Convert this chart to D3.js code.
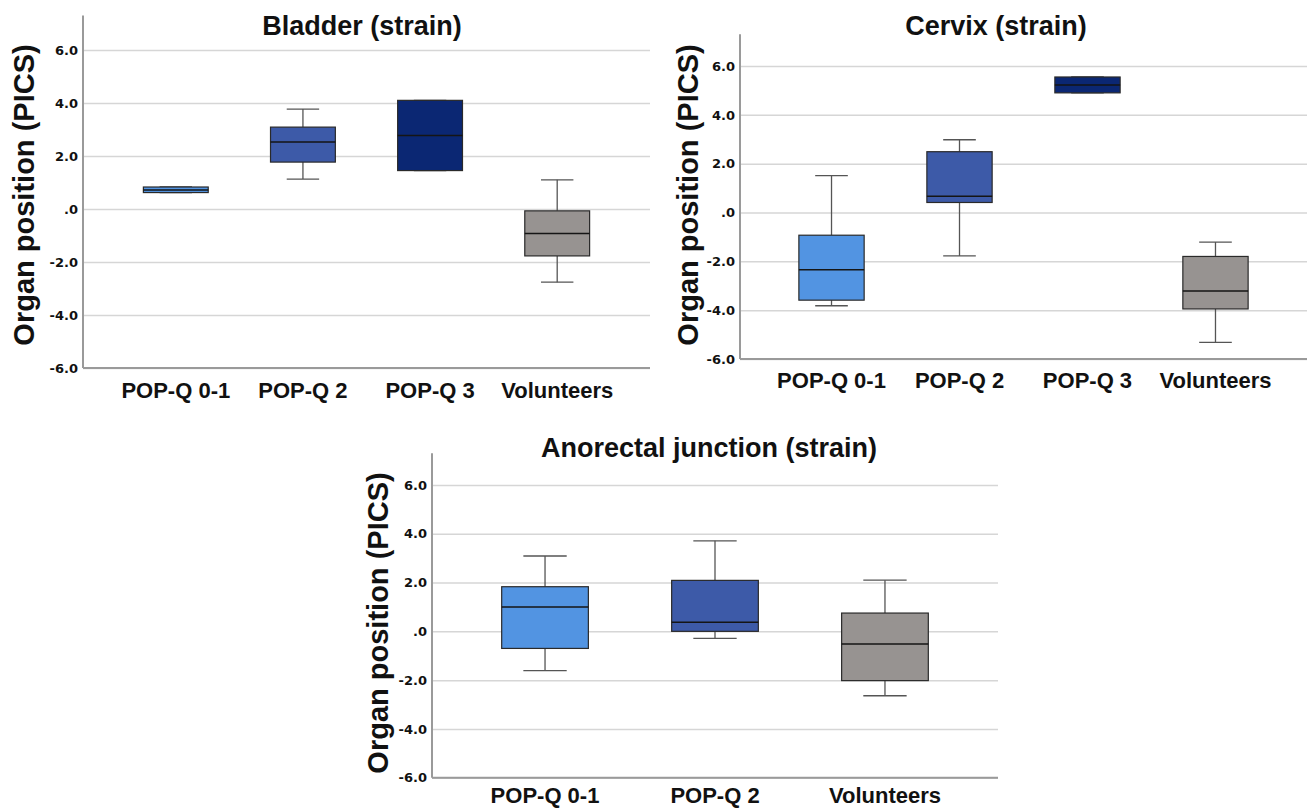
<!DOCTYPE html>
<html>
<head>
<meta charset="utf-8">
<script src="https://cdn.jsdelivr.net/npm/d3@7"></script>
<style>
  body { margin: 0; background: #fff; }
  svg { display: block; }
</style>
</head>
<body>
<script>
// y axis shared by all three panels
var yTicks = [-6, -4, -2, 0, 2, 4, 6];
var yDomain = [-6, 7.3];

// box stats per group: [min, q1, median, q3, max]
var bladderGroups = ['POP-Q 0-1', 'POP-Q 2', 'POP-Q 3', 'Volunteers'];
var bladderStats = [
    [0.62, 0.62, 0.72, 0.83, 0.83],
    [1.13, 1.77, 2.53, 3.09, 3.77],
    [1.45, 1.45, 2.77, 4.10, 4.10],
    [-2.76, -1.77, -0.92, -0.07, 1.10]
];

var cervixGroups = ['POP-Q 0-1', 'POP-Q 2', 'POP-Q 3', 'Volunteers'];
var cervixStats = [
    [-3.82, -3.59, -2.34, -0.93, 1.51],
    [-1.78, 0.41, 0.67, 2.49, 2.98],
    [4.90, 4.90, 5.22, 5.55, 5.55],
    [-5.32, -3.95, -3.22, -1.80, -1.21]
];

var anorectalGroups = ['POP-Q 0-1', 'POP-Q 2', 'Volunteers'];
var anorectalStats = [
    [-1.61, -0.70, 1.00, 1.83, 3.09],
    [-0.29, 0.00, 0.37, 2.09, 3.71],
    [-2.64, -2.02, -0.52, 0.75, 2.10]
];

var groupColors = {
    'POP-Q 0-1': '#5294e2',
    'POP-Q 2': '#3d5aa8',
    'POP-Q 3': '#0b2773',
    'Volunteers': '#979391'
};

var width = 1307, height = 809;
var fontFamily = '"Liberation Sans", Arial, Helvetica, sans-serif';

var svg = d3.select('body').append('svg').attr('width', width).attr('height', height);

// layout of each panel (pixel positions of the plot area)
var panels = [
    { title: 'Bladder (strain)', groups: bladderGroups, stats: bladderStats,
      left: 83, right: 650, y6: 50, bottom: 368, pad: 0.73, catY: 398,
      titleX: 362, titleY: 35, labelX: 34, labelY: 195 },
    { title: 'Cervix (strain)', groups: cervixGroups, stats: cervixStats,
      left: 740, right: 1307, y6: 66, bottom: 359, pad: 0.715, catY: 388,
      titleX: 996, titleY: 35, labelX: 698, labelY: 195 },
    { title: 'Anorectal junction (strain)', groups: anorectalGroups, stats: anorectalStats,
      left: 432, right: 998, y6: 485, bottom: 777.7, pad: 0.665, catY: 803,
      titleX: 709, titleY: 457, labelX: 388, labelY: 623 }
];

panels.forEach(drawPanel);

function drawPanel(p) {
    var ppu = (p.bottom - p.y6) / 12; // pixels per unit
    var y = d3.scaleLinear()
        .domain(yDomain)
        .range([p.bottom, p.bottom - (yDomain[1] - yDomain[0]) * ppu]);

    var x = d3.scalePoint()
        .domain(p.groups)
        .range([p.left, p.right])
        .padding(p.pad);

    var boxW = x.step() * 0.51;
    var g = svg.append('g');

    // gridlines
    g.append('g')
        .attr('transform', 'translate(' + p.left + ',0)')
        .call(d3.axisLeft(y).tickValues(yTicks).tickSize(-(p.right - p.left)).tickFormat(''))
        .call(function (s) {
            s.select('.domain').remove();
            s.selectAll('line').attr('stroke', '#d6d6d6').attr('stroke-width', 1.5);
        });

    // tick labels
    g.append('g')
        .attr('transform', 'translate(' + p.left + ',0)')
        .call(d3.axisLeft(y).tickValues(yTicks).tickSize(0).tickPadding(5)
            .tickFormat(function (d) { return d === 0 ? '.0' : d.toFixed(1); }))
        .call(function (s) {
            s.select('.domain').remove();
            s.selectAll('text')
                .attr('font-family', '"DejaVu Sans", sans-serif')
                .attr('font-weight', 'bold')
                .attr('font-size', 13)
                .attr('fill', '#111');
        });

    // axis lines
    g.append('line')
        .attr('x1', p.left).attr('x2', p.left)
        .attr('y1', y(yDomain[1])).attr('y2', p.bottom)
        .attr('stroke', '#9a9a9a').attr('stroke-width', 2);
    g.append('line')
        .attr('x1', p.left).attr('x2', p.right)
        .attr('y1', p.bottom).attr('y2', p.bottom)
        .attr('stroke', '#9a9a9a').attr('stroke-width', 2);

    // category labels
    g.selectAll('.cat')
        .data(p.groups)
        .enter().append('text')
        .attr('class', 'cat')
        .attr('x', function (d) { return x(d); })
        .attr('y', p.catY)
        .attr('text-anchor', 'middle')
        .attr('font-family', fontFamily)
        .attr('font-weight', 'bold')
        .attr('font-size', 22)
        .attr('fill', '#111')
        .text(function (d) { return d; });

    // boxes
    var box = g.selectAll('.box')
        .data(p.groups.map(function (name, i) { return { name: name, s: p.stats[i] }; }))
        .enter().append('g')
        .attr('class', 'box');

    // whiskers
    box.append('line')
        .attr('x1', function (d) { return x(d.name); })
        .attr('x2', function (d) { return x(d.name); })
        .attr('y1', function (d) { return y(d.s[4]); })
        .attr('y2', function (d) { return y(d.s[3]); })
        .attr('stroke', '#555').attr('stroke-width', 1.3);
    box.append('line')
        .attr('x1', function (d) { return x(d.name); })
        .attr('x2', function (d) { return x(d.name); })
        .attr('y1', function (d) { return y(d.s[1]); })
        .attr('y2', function (d) { return y(d.s[0]); })
        .attr('stroke', '#555').attr('stroke-width', 1.3);
    [0, 4].forEach(function (k) {
        box.append('line')
            .attr('x1', function (d) { return x(d.name) - boxW / 4; })
            .attr('x2', function (d) { return x(d.name) + boxW / 4; })
            .attr('y1', function (d) { return y(d.s[k]); })
            .attr('y2', function (d) { return y(d.s[k]); })
            .attr('stroke', '#555').attr('stroke-width', 1.3);
    });

    box.append('rect')
        .attr('x', function (d) { return x(d.name) - boxW / 2; })
        .attr('width', boxW)
        .attr('y', function (d) { return y(d.s[3]); })
        .attr('height', function (d) { return y(d.s[1]) - y(d.s[3]); })
        .attr('fill', function (d) { return groupColors[d.name]; })
        .attr('stroke', '#2a2a2a').attr('stroke-width', 1.2);

    box.append('line')
        .attr('x1', function (d) { return x(d.name) - boxW / 2; })
        .attr('x2', function (d) { return x(d.name) + boxW / 2; })
        .attr('y1', function (d) { return y(d.s[2]); })
        .attr('y2', function (d) { return y(d.s[2]); })
        .attr('stroke', '#151515').attr('stroke-width', 1.5);

    // title
    svg.append('text')
        .attr('x', p.titleX).attr('y', p.titleY)
        .attr('text-anchor', 'middle')
        .attr('font-family', fontFamily)
        .attr('font-weight', 'bold')
        .attr('font-size', 27)
        .attr('fill', '#111')
        .text(p.title);

    // y axis label
    svg.append('text')
        .attr('transform', 'translate(' + p.labelX + ',' + p.labelY + ') rotate(-90)')
        .attr('text-anchor', 'middle')
        .attr('font-family', fontFamily)
        .attr('font-weight', 'bold')
        .attr('font-size', 29)
        .attr('fill', '#111')
        .text('Organ position (PICS)');
}
</script>
</body>
</html>
